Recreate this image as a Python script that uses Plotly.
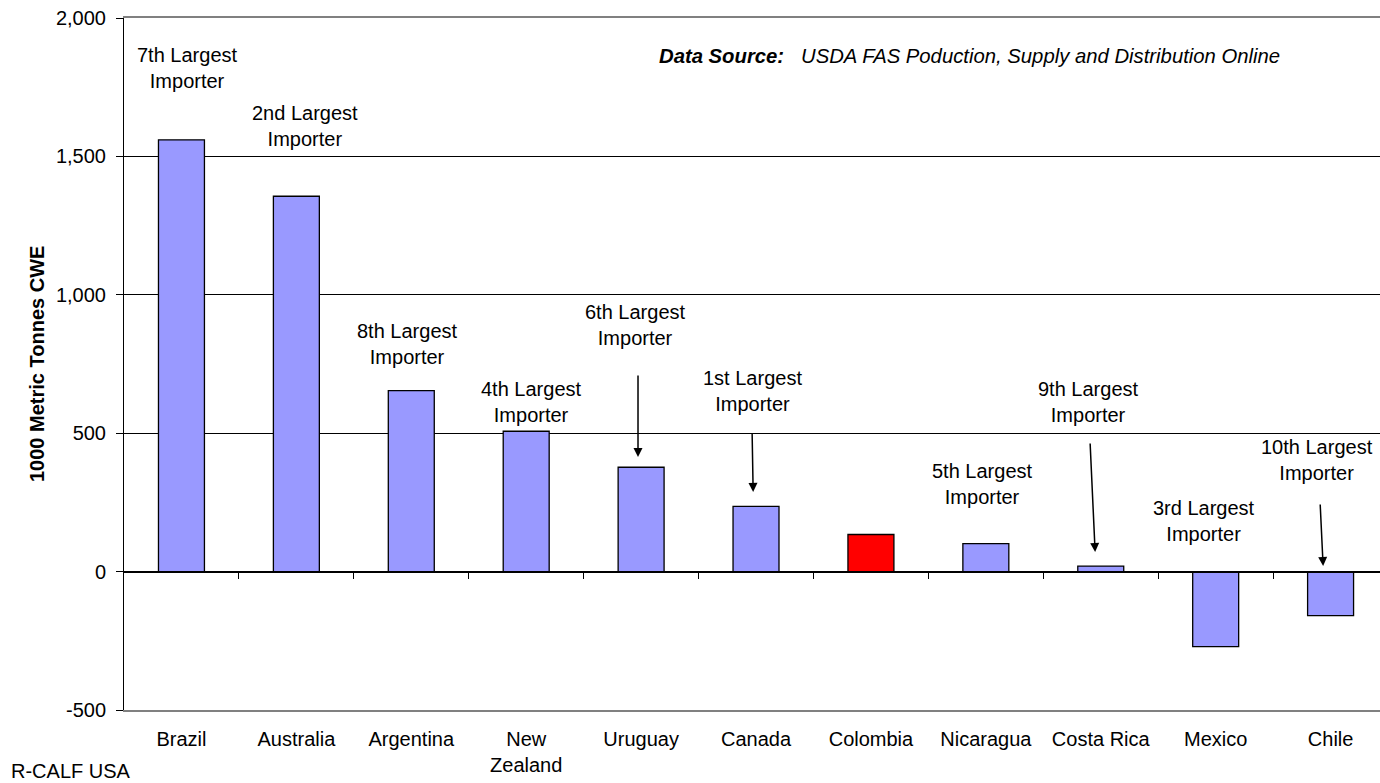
import plotly.graph_objects as go

countries = ["Brazil", "Australia", "Argentina", "New<br>Zealand", "Uruguay", "Canada",
             "Colombia", "Nicaragua", "Costa Rica", "Mexico", "Chile"]
net_exports = [1560, 1356, 654, 507, 377, 236, 134, 101, 20, -271, -159]
bar_colors = ["#9999FF"] * 6 + ["#FF0000"] + ["#9999FF"] * 4
rank_labels = ["7th", "2nd", "8th", "4th", "6th", "1st", None, "5th", "9th", "3rd", "10th"]
y_ticks = [-500, 0, 500, 1000, 1500, 2000]
y_tick_text = ["-500", "0", "500", "1,000", "1,500", "2,000"]

# label placement (layout only): (x, y) in axis units
label_pos = [(0.05, 1819), (1.075, 1610), (1.97, 822), (3.05, 614), (3.955, 891),
             (4.966, 652), None, (6.967, 315), (7.89, 614), (8.9, 183), (9.883, 403)]
# arrows (layout only): tail (ax, ay) -> head (x, y)
arrows = [(3.973, 714, 3.973, 414), (4.966, 504, 4.975, 288),
          (7.907, 468, 7.951, 71), (9.909, 248, 9.935, 20)]

FONT = "Liberation Sans, Arial, sans-serif"
FS = 20
XR = [-0.5, 10.43]

fig = go.Figure()
fig.add_trace(go.Bar(
    x=list(range(len(countries))), y=net_exports, width=0.4,
    marker=dict(color=bar_colors, line=dict(color="black", width=1.3)),
    hoverinfo="skip", showlegend=False))
fig.add_trace(go.Scatter(x=[], y=[], xaxis="x2", yaxis="y", showlegend=False, hoverinfo="skip"))

ann = []
for rk, pos in zip(rank_labels, label_pos):
    if rk is None:
        continue
    ann.append(dict(x=pos[0], y=pos[1], xref="x", yref="y", text=f"{rk} Largest<br>Importer",
                    showarrow=False, xanchor="center", yanchor="middle",
                    font=dict(family=FONT, size=FS, color="black")))
for ax, ay, hx, hy in arrows:
    ann.append(dict(x=hx, y=hy, ax=ax, ay=ay, xref="x", yref="y", axref="x", ayref="y",
                    text="", showarrow=True, arrowhead=2, arrowsize=1.2, arrowwidth=1.5,
                    arrowcolor="black"))
ann.append(dict(x=(657 - 124) / 1256, y=(710 - 56) / 692, xref="paper", yref="paper",
                xanchor="left", yanchor="middle", showarrow=False,
                text="<b><i>Data Source:</i></b>\u00a0\u00a0 <i>USDA FAS Poduction, Supply and Distribution Online</i>",
                font=dict(family=FONT, size=20.3, color="black")))
ann.append(dict(x=(9 - 124) / 1256, y=(710 - 771) / 692, xref="paper", yref="paper",
                xanchor="left", yanchor="middle", showarrow=False, text="R-CALF USA",
                font=dict(family=FONT, size=FS, color="black")))
ann.append(dict(x=(37 - 124) / 1256, y=0.5, xref="paper", yref="paper",
                xanchor="center", yanchor="middle", showarrow=False, textangle=-90,
                text="<b>1000 Metric Tonnes CWE</b>",
                font=dict(family=FONT, size=FS, color="black")))

fig.update_layout(
    width=1380, height=783,
    margin=dict(l=124, r=0, t=18, b=73),
    paper_bgcolor="white", plot_bgcolor="white",
    font=dict(family=FONT, size=FS, color="black"),
    xaxis=dict(range=XR, tickmode="array", tickvals=list(range(len(countries))),
               ticktext=countries, ticks="", showgrid=False, zeroline=False,
               showline=True, linecolor="#808080", linewidth=1.5, mirror=True,
               ticklabelstandoff=10, tickfont=dict(family=FONT, size=FS, color="black")),
    xaxis2=dict(range=XR, overlaying="x", anchor="free", position=0.2, side="bottom",
                tickmode="array", tickvals=[i + 0.5 for i in range(len(countries) - 1)],
                ticks="outside", ticklen=6, tickcolor="black", tickwidth=1,
                showticklabels=False, showgrid=False, zeroline=False,
                showline=True, linecolor="black", linewidth=1),
    yaxis=dict(range=[-500, 2000], tickmode="array", tickvals=y_ticks, ticktext=y_tick_text,
               ticks="outside", ticklen=7, tickcolor="black", showline=True,
               linecolor="black", linewidth=1, gridcolor="black", gridwidth=1,
               zeroline=False, ticklabelstandoff=6,
               tickfont=dict(family=FONT, size=FS, color="black")),
    annotations=ann,
)

fig.write_html("out.html", config={"displayModeBar": False},
               post_script="document.body.style.margin='0';document.body.style.overflow='hidden';")
